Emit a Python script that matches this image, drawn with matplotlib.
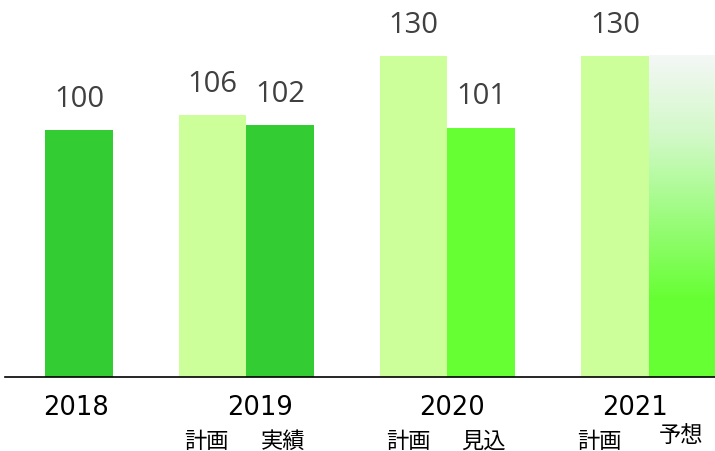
import numpy as np
import matplotlib
matplotlib.use("Agg")
import matplotlib.pyplot as plt
from matplotlib.colors import LinearSegmentedColormap

# data
years = ["2018", "2019", "2020", "2021"]
plan = [None, 106, 130, 130]          # 計画
result = [100, 102, 101, 130]         # 実績 / 見込 / 予想
result_labels = ["100", "102", "101", None]
plan_labels = [None, "106", "130", "130"]
sub_plan = [None, "計画", "計画", "計画"]
sub_result = [None, "実績", "見込", "予想"]

# styles
C_DARK = "#33cc33"
C_LIGHT = "#ccff99"
C_BRIGHT = "#66ff33"
result_kind = ["dark", "dark", "bright", "gradient"]

W = 0.336
PX = 2.47  # pixels per unit on y

fig = plt.figure(figsize=(7.15, 4.51), dpi=100)
ax = fig.add_axes([5 / 715, 74 / 451, 710 / 715, 377 / 451])
ax.set_xlim(-0.2, 3.33)
ax.set_ylim(0, 377 / PX)

val_font = dict(family="Open Sans", fontsize=21, color="#404040", ha="center", va="bottom")
grad = LinearSegmentedColormap.from_list(
    "g", [(0, "#f4f7f6"), (0.25, "#d2f9c8"), (0.76, C_BRIGHT), (1, C_BRIGHT)])

for i, y in enumerate(years):
    xp, xr = i - W / 2, i + W / 2
    if plan[i] is not None:
        ax.bar(xp, plan[i], W, color=C_LIGHT, zorder=2)
        ax.text(xp, plan[i] + 6.5, plan_labels[i], **val_font)
    kind = result_kind[i]
    if kind == "gradient":
        b = ax.bar(xr, result[i], W, color="none", zorder=2)[0]
        img = np.linspace(0, 1, 256).reshape(-1, 1)
        ax.imshow(img, cmap=grad, aspect="auto", zorder=2,
                  extent=[xr - W / 2, xr + W / 2, 0, result[i]], origin="upper")
    else:
        ax.bar(xr, result[i], W, color=C_DARK if kind == "dark" else C_BRIGHT, zorder=2)
    if result_labels[i]:
        ax.text(xr, result[i] + 6.5, result_labels[i], **val_font)

# x labels
year_dx = [0.152, 1.067, 2.022, 2.933]
for i, y in enumerate(years):
    ax.text(year_dx[i], -31 / PX, y, ha="center", va="center",
            family="DejaVu Sans", fontsize=18.5, color="black", clip_on=False)
sub_dx = [(0, 0), (-0.03, 0.015), (-0.025, 0.01), (-0.075, -0.005)]
sub_dy = [(0, 0), (-64, -64), (-64, -64), (-64, -59)]
for i in range(len(years)):
    if sub_plan[i]:
        ax.text(i - W / 2 + sub_dx[i][0], sub_dy[i][0] / PX, sub_plan[i], ha="center", va="center",
                family=["Noto Sans CJK JP", "DejaVu Sans"], fontsize=16, clip_on=False)
        ax.text(i + W / 2 + sub_dx[i][1], sub_dy[i][1] / PX, sub_result[i], ha="center", va="center",
                family=["Noto Sans CJK JP", "DejaVu Sans"], fontsize=16, clip_on=False)

ax.set_xticks([])
ax.set_yticks([])
for s in ("top", "right", "left"):
    ax.spines[s].set_visible(False)
ax.spines["bottom"].set_linewidth(1.2)
ax.spines["bottom"].set_zorder(3)

fig.savefig("out.png", dpi=100)
